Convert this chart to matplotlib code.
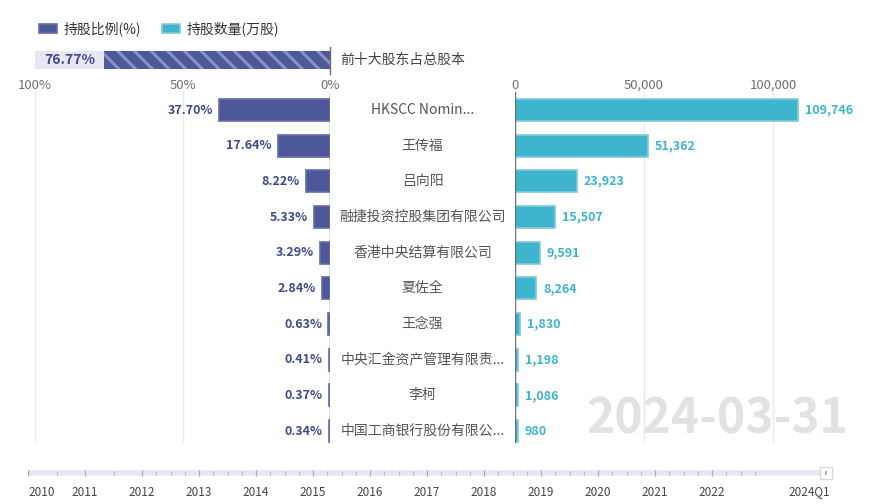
import matplotlib
matplotlib.use('Agg')
import matplotlib.pyplot as plt
import matplotlib.transforms as mtransforms

plt.rcParams['font.family'] = ['Noto Sans CJK SC', 'DejaVu Sans']
plt.rcParams['hatch.linewidth'] = 2.2

# 数据
holders = ['HKSCC Nomin...', '王传福', '吕向阳', '融捷投资控股集团有限公司', '香港中央结算有限公司',
           '夏佐全', '王念强', '中央汇金资产管理有限责...', '李柯', '中国工商银行股份有限公...']
ratio = [37.70, 17.64, 8.22, 5.33, 3.29, 2.84, 0.63, 0.41, 0.37, 0.34]
shares = [109746, 51362, 23923, 15507, 9591, 8264, 1830, 1198, 1086, 980]
top10_total = 76.77
report_date = '2024-03-31'
tl_years = list(range(2010, 2023))
tl_labels = [str(y) for y in tl_years] + ['2024Q1']
tl_pos = tl_years + [2024]

W, H = 871, 504
DARK = '#4e5799'
DARK_TXT = '#3d4a8c'
CYAN = '#3eb4cd'
GRID = '#e8e9f3'
AXIS = '#6e7079'


def box(x, y, w, h):
    return [x / W, 1 - (y + h) / H, w / W, h / H]


fig = plt.figure(figsize=(W / 100, H / 100), dpi=100)

# 左边：持股比例，右边：持股数量
axL = fig.add_axes(box(35, 92, 295, 351))
axR = fig.add_axes(box(515, 92, 325, 351))
rows = list(range(len(holders)))
ylim = ((443 - 110) / 35.67, (92 - 110) / 35.67)

barsL = axL.barh(rows, ratio, height=0.62, color=DARK, edgecolor='#646dab', linewidth=1.2,
                 label='持股比例(%)', zorder=3)
axL.set_xlim(100, 0)
axL.set_ylim(*ylim)
barsR = axR.barh(rows, shares, height=0.62, color=CYAN, edgecolor='#7fcbdc', linewidth=1.2,
                 label='持股数量(万股)', zorder=3)
axR.set_xlim(0, 100000 * 325 / 258)
axR.set_ylim(*ylim)

for ax in (axL, axR):
    for s in ax.spines.values():
        s.set_visible(False)
    ax.xaxis.tick_top()
    ax.tick_params(axis='x', length=0, pad=0, labelsize=9.5, labelcolor=AXIS)
    ax.set_yticks([])
    ax.set_facecolor('none')

axL.set_xticks([100, 50, 0])
axL.set_xticklabels(['100%', '50%', '0%'])
axR.set_xticks([0, 50000, 100000])
axR.set_xticklabels(['0', '50,000', '100,000'])
for v in (100, 50):
    axL.axvline(v, color=GRID, lw=1, zorder=1)
for v in (50000, 100000):
    axR.axvline(v, color=GRID, lw=1, zorder=1)
axL.axvline(0, color=AXIS, lw=1, zorder=4)
axR.axvline(0, color=AXIS, lw=1, zorder=4)

for i, v in enumerate(ratio):
    axL.annotate(f'{v:.2f}%', (v, i), xytext=(-6, 0), textcoords='offset pixels',
                 ha='right', va='center', fontsize=9, fontweight='bold', color=DARK_TXT)
for i, v in enumerate(shares):
    axR.annotate(f'{v:,}', (v, i), xytext=(7, 0), textcoords='offset pixels',
                 ha='left', va='center', fontsize=9, fontweight='bold', color=CYAN)

trans = mtransforms.blended_transform_factory(fig.transFigure, axL.transData)
for i, name in enumerate(holders):
    axL.text(422.5 / W, i, name, transform=trans, ha='center', va='center',
             fontsize=10, color='#555555', clip_on=False)

# 前十大股东占总股本
axT = fig.add_axes(box(35, 51, 295, 18))
axT.barh([0], [100], height=1, color='#e6e7f3', linewidth=0)
axT.barh([0], [top10_total], height=1, color=DARK, edgecolor='#8a90c2', linewidth=0,
         hatch='\\\\')
axT.set_xlim(100, 0)
axT.set_ylim(-0.5, 0.5)
axT.axis('off')
axT.plot([0, 0], [-0.75, 0.75], color=AXIS, lw=1, clip_on=False)
axT.text((top10_total + 100) / 2, 0, f'{top10_total:.2f}%', ha='center', va='center',
         fontsize=10, fontweight='bold', color=DARK_TXT)
axT.annotate('前十大股东占总股本', (0, 0), xytext=(10, 0), textcoords='offset pixels',
             ha='left', va='center', fontsize=10, color='#444444')

# 图例
fig.legend(handles=[barsL, barsR], loc='upper left', bbox_to_anchor=(26 / W, 1 - 9 / H),
           ncol=2, frameon=False, fontsize=10, handlelength=1.3, handleheight=0.55,
           handletextpad=0.5, columnspacing=1.5, labelcolor='#333333')

# 日期水印
fig.text(848 / W, 1 - 419 / H, report_date, ha='right', va='center', fontsize=34.5,
         fontweight='bold', color='#e2e2e5', zorder=0)

# 时间轴
axTL = fig.add_axes(box(28, 468, 798, 10))
axTL.set_xlim(2010, 2024)
axTL.set_ylim(0, 1)
axTL.axis('off')
axTL.plot([2010, 2024], [0.5, 0.5], color='#e6e7f2', lw=4, solid_capstyle='butt')
minor = [2010.5, 2011.5] + [y + q / 4 for y in range(2012, 2023) for q in (1, 2, 3)]
axTL.plot(minor, [0.5] * len(minor), ls='none', marker='|', ms=2.5, color='#b8b8c0', mew=0.8)
axTL.plot(tl_years, [0.5] * len(tl_years), ls='none', marker='|', ms=4.5, color='#a8a8b0', mew=0.9)
axTL.plot([2024], [0.5], ls='none', marker='s', ms=9, mfc='white', mec='#d8d8e0', mew=1,
          clip_on=False)
axTL.plot([2024], [0.5], ls='none', marker='|', ms=3.5, color='#a0a0a8', mew=1.2, clip_on=False)
for i, (p, lab) in enumerate(zip(tl_pos, tl_labels)):
    ha = 'left' if i == 0 else ('right' if i == len(tl_pos) - 1 else 'center')
    axTL.annotate(lab, (p, 0.5), xytext=(4 if i == len(tl_pos) - 1 else 0, -19),
                  textcoords='offset pixels', ha=ha, va='center', fontsize=8.5,
                  color='#444444', annotation_clip=False)

fig.savefig('out.png', dpi=100)
